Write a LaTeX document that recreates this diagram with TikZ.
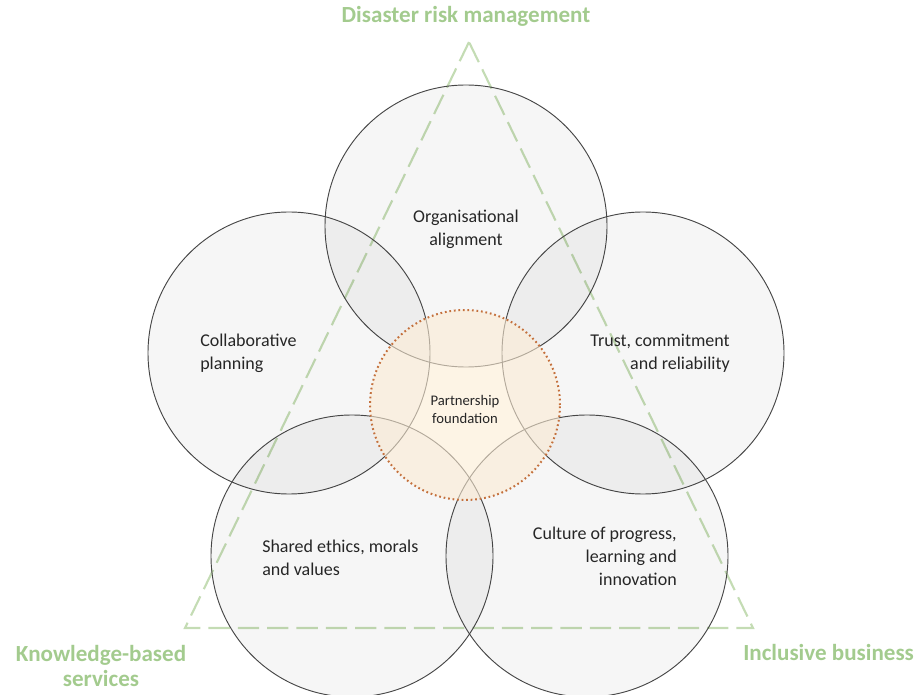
\documentclass[tikz,border=0pt]{standalone}
\usepackage{fontspec}
\setmainfont{Carlito}
\definecolor{leafgreen}{RGB}{163,203,142}
\definecolor{dashgreen}{RGB}{196,220,180}
\definecolor{ringline}{RGB}{70,70,70}
\definecolor{coreline}{RGB}{196,112,60}
\definecolor{corefill}{RGB}{252,236,212}
\tikzset{
  ring/.style={circle, draw=ringline, line width=0.7pt, fill=black, fill opacity=0.035, draw opacity=1, minimum size=211.5pt, inner sep=0pt},
  core/.style={circle, draw=coreline, line width=1.5pt, dash pattern=on 1.3pt off 2.1pt, fill=corefill, fill opacity=0.6, minimum size=142.5pt, inner sep=0pt},
  txt/.style={font=\fontsize{13.5}{17.3}\selectfont, text=black!85, inner sep=0pt},
  pillar/.style={font=\fontsize{17.3}{19}\selectfont\bfseries, text=leafgreen, inner sep=0pt, align=center},
  tri/.style={draw=dashgreen, line width=1.6pt, dash pattern=on 16pt off 6pt}
}
\begin{document}
\begin{tikzpicture}[x=0.75pt, y=-0.75pt]
        \useasboundingbox (0,0) rectangle (918,695);

        % Define corners of the triangle
        \coordinate (apex) at (469,42);
        \coordinate (kbs) at (185,628);
        \coordinate (inc) at (753,628);

        % Draw triangle
        \draw[tri] (apex) -- (kbs) -- (inc) -- cycle;

        % Draw circles
        \node[ring] (org) at (466,226) {};
        \node[ring] (collab) at (289,353) {};
        \node[ring] (trust) at (643,353) {};
        \node[ring] (ethics) at (352,556) {};
        \node[ring] (culture) at (587,556) {};
        \node[core] (found) at (465,405) {};

        % Add circle labels
        \node[txt, align=center] (orgtxt) at (466,229) {Organisational\\alignment};
        \node[txt, align=left, anchor=west] (collabtxt) at (200,353) {Collaborative\\planning};
        \node[txt, align=right, anchor=east] (trusttxt) at (730,353) {Trust, commitment\\and reliability};
        \node[txt, align=left, anchor=west] (ethicstxt) at (262,558) {Shared ethics, morals\\and values};
        \node[txt, align=right, anchor=east] (culturetxt) at (677,556) {Culture of progress,\\learning and\\innovation};
        \node[txt, align=center, font=\fontsize{11}{13.5}\selectfont] (foundtxt) at (465,409) {Partnership\\foundation};

        % Add triangle labels
        \node[pillar] (drm) at (466,16) {Disaster risk management};
        \node[pillar] (kbstxt) at (101,666) {Knowledge-based\\services};
        \node[pillar, anchor=west] (inctxt) at (743,652) {Inclusive business};
    \end{tikzpicture}
\end{document}
